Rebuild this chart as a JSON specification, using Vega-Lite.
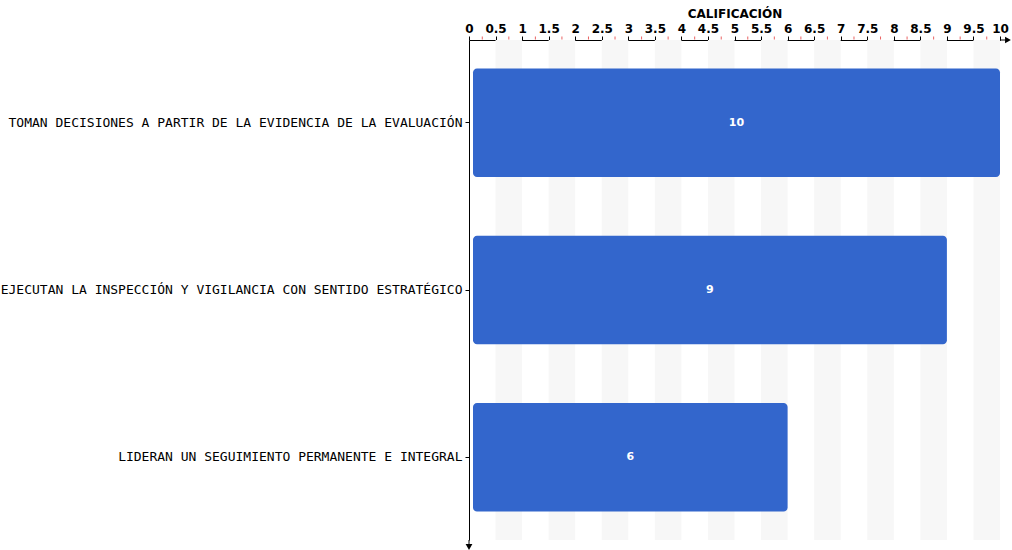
{
  "$schema": "https://vega.github.io/schema/vega-lite/v6.json",
  "width": 531,
  "height": 500,
  "autosize": {"type": "none"},
  "padding": {"left": 469, "top": 40, "right": 12, "bottom": 10},
  "background": "white",
  "config": {
    "view": {"stroke": null},
    "font": "DejaVu Sans Mono",
    "axis": {"labelOverlap": false, "labelFlush": false, "grid": false, "domainColor": "black", "labelColor": "black", "titleColor": "black", "tickColor": "black", "labelFont": "DejaVu Sans Mono", "titleFont": "DejaVu Sans Mono"}
  },
  "resolve": {"axis": {"x": "independent"}},
  "datasets": {
    "scores": [
      {"criterio": "TOMAN DECISIONES A PARTIR DE LA EVIDENCIA DE LA EVALUACIÓN", "calificacion": 10},
      {"criterio": "EJECUTAN LA INSPECCIÓN Y VIGILANCIA CON SENTIDO ESTRATÉGICO", "calificacion": 9},
      {"criterio": "LIDERAN UN SEGUIMIENTO PERMANENTE E INTEGRAL", "calificacion": 6}
    ],
    "bands": [
      {"start": 0.5, "end": 1}, {"start": 1.5, "end": 2}, {"start": 2.5, "end": 3},
      {"start": 3.5, "end": 4}, {"start": 4.5, "end": 5}, {"start": 5.5, "end": 6},
      {"start": 6.5, "end": 7}, {"start": 7.5, "end": 8}, {"start": 8.5, "end": 9},
      {"start": 9.5, "end": 10}
    ],
    "minor": [
      {"pos": 0.25}, {"pos": 0.75}, {"pos": 1.25}, {"pos": 1.75}, {"pos": 2.25},
      {"pos": 2.75}, {"pos": 3.25}, {"pos": 3.75}, {"pos": 4.25}, {"pos": 4.75},
      {"pos": 5.25}, {"pos": 5.75}, {"pos": 6.25}, {"pos": 6.75}, {"pos": 7.25},
      {"pos": 7.75}, {"pos": 8.25}, {"pos": 8.75}, {"pos": 9.25}, {"pos": 9.75}
    ]
  },
  "layer": [
    {
      "data": {"name": "bands"},
      "mark": {"type": "rect", "color": "#f7f7f7"},
      "encoding": {
        "x": {
          "field": "start", "type": "quantitative",
          "scale": {"domain": [0, 10], "nice": false},
          "axis": {
            "orient": "top", "title": "CALIFICACIÓN",
            "values": [0, 0.5, 1, 1.5, 2, 2.5, 3, 3.5, 4, 4.5, 5, 5.5, 6, 6.5, 7, 7.5, 8, 8.5, 9, 9.5, 10],
            "format": "~g",
            "tickSize": 4,
            "labelFont": "DejaVu Sans", "labelFontSize": 12, "labelFontWeight": "bold", "labelPadding": 1,
            "titleFont": "DejaVu Sans", "titleFontSize": 12, "titleFontWeight": "bold", "titlePadding": 2
          }
        },
        "x2": {"field": "end"}
      }
    },
    {
      "data": {"name": "minor"},
      "mark": {"type": "tick", "color": "#e02020", "thickness": 1, "size": 3, "yOffset": -2},
      "encoding": {
        "x": {"field": "pos", "type": "quantitative", "axis": null},
        "y": {"value": 0}
      }
    },
    {
      "data": {"name": "scores"},
      "mark": {"type": "bar", "color": "#3366cc", "cornerRadius": 4, "x2Offset": 4},
      "encoding": {
        "y": {
          "field": "criterio", "type": "nominal", "sort": null,
          "scale": {"paddingInner": 0.35, "paddingOuter": 0.17},
          "axis": {
            "title": null, "tickSize": 4,
            "labelFontSize": 13, "labelPadding": 3, "labelLimit": 500
          }
        },
        "x": {"field": "calificacion", "type": "quantitative", "axis": null},
        "x2": {"datum": 0}
      }
    },
    {
      "data": {"name": "scores"},
      "transform": [{"calculate": "datum.calificacion / 2", "as": "centro"}],
      "mark": {"type": "text", "color": "white", "fontSize": 11, "font": "DejaVu Sans", "fontWeight": "bold", "align": "center", "baseline": "middle", "dx": 2},
      "encoding": {
        "y": {"field": "criterio", "type": "nominal", "sort": null},
        "x": {"field": "centro", "type": "quantitative", "axis": null},
        "text": {"field": "calificacion", "type": "quantitative"}
      }
    },
    {
      "data": {"values": [{}]},
      "mark": {"type": "rule", "color": "black"},
      "encoding": {
        "x": {"datum": 10, "axis": null},
        "x2": {"datum": 10.12},
        "y": {"value": 0}
      }
    },
    {
      "data": {"values": [{}]},
      "mark": {"type": "point", "shape": "triangle-right", "filled": true, "color": "black", "size": 45, "opacity": 1},
      "encoding": {
        "x": {"datum": 10.15, "axis": null},
        "y": {"value": 0}
      }
    },
    {
      "data": {"values": [{}]},
      "mark": {"type": "rule", "color": "black"},
      "encoding": {
        "x": {"datum": 0, "axis": null},
        "y": {"value": 500},
        "y2": {"value": 505}
      }
    },
    {
      "data": {"values": [{}]},
      "mark": {"type": "point", "shape": "triangle-down", "filled": true, "color": "black", "size": 45, "opacity": 1},
      "encoding": {
        "x": {"datum": 0, "axis": null},
        "y": {"value": 507}
      }
    }
  ]
}
